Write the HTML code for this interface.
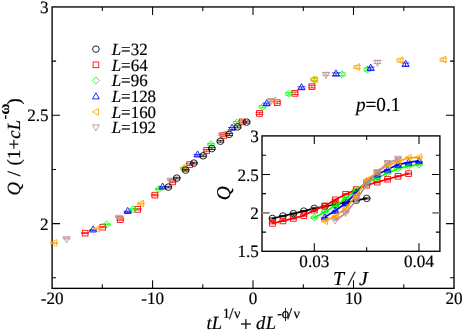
<!DOCTYPE html>
<html><head><meta charset="utf-8"><title>Q scaling plot</title>
<style>
html,body{margin:0;padding:0;background:#fff;}
body{width:463px;height:331px;overflow:hidden;}
.t{font-family:"Liberation Serif",serif;fill:#000;stroke:#000;stroke-width:0.18px;text-rendering:geometricPrecision;}
</style></head><body>
<svg width="463" height="331" viewBox="0 0 463 331" style="display:block;will-change:transform">
<rect width="463" height="331" fill="#fff"/>
<rect x="52.1" y="6.95" width="401.9" height="281.40000000000003" fill="none" stroke="#000" stroke-width="1.35"/>
<path d="M152.6 288.35v-8M152.6 6.95v8M253.0 288.35v-8M253.0 6.95v8M353.5 288.35v-8M353.5 6.95v8M102.3 288.35v-4M102.3 6.95v4M202.8 288.35v-4M202.8 6.95v4M303.3 288.35v-4M303.3 6.95v4M403.8 288.35v-4M403.8 6.95v4M52.1 223.6h8M454.0 223.6h-8M52.1 115.3h8M454.0 115.3h-8M52.1 277.8h4M454.0 277.8h-4M52.1 169.4h4M454.0 169.4h-4M52.1 61.1h4M454.0 61.1h-4" stroke="#000" stroke-width="1.05" fill="none"/>
<path d="M81.2 232.6H89.0M81.2 233.6H89.0M85.1 232.6V233.6" fill="none" stroke="#ff0000" stroke-width="0.8"/>
<rect x="82.3" y="230.3" width="5.68" height="5.68" fill="none" stroke="#ff0000" stroke-width="0.85"/>
<path d="M98.8 226.6H106.6M98.8 227.6H106.6M102.7 226.6V227.6" fill="none" stroke="#ff0000" stroke-width="0.8"/>
<rect x="99.9" y="224.3" width="5.68" height="5.68" fill="none" stroke="#ff0000" stroke-width="0.85"/>
<path d="M116.3 219.0H124.1M116.3 220.2H124.1M120.2 219.0V220.2" fill="none" stroke="#ff0000" stroke-width="0.8"/>
<rect x="117.4" y="216.8" width="5.68" height="5.68" fill="none" stroke="#ff0000" stroke-width="0.85"/>
<path d="M133.8 208.7H141.6M133.8 209.9H141.6M137.7 208.7V209.9" fill="none" stroke="#ff0000" stroke-width="0.8"/>
<rect x="134.9" y="206.5" width="5.68" height="5.68" fill="none" stroke="#ff0000" stroke-width="0.85"/>
<path d="M150.9 194.4H158.7M150.9 195.8H158.7M154.8 194.4V195.8" fill="none" stroke="#ff0000" stroke-width="0.8"/>
<rect x="152.0" y="192.3" width="5.68" height="5.68" fill="none" stroke="#ff0000" stroke-width="0.85"/>
<path d="M168.7 181.1H176.5M168.7 182.7H176.5M172.6 181.1V182.7" fill="none" stroke="#ff0000" stroke-width="0.8"/>
<rect x="169.8" y="179.1" width="5.68" height="5.68" fill="none" stroke="#ff0000" stroke-width="0.85"/>
<path d="M185.7 163.8H193.5M185.7 165.4H193.5M189.6 163.8V165.4" fill="none" stroke="#ff0000" stroke-width="0.8"/>
<rect x="186.8" y="161.8" width="5.68" height="5.68" fill="none" stroke="#ff0000" stroke-width="0.85"/>
<path d="M202.8 149.5H210.6M202.8 151.3H210.6M206.7 149.5V151.3" fill="none" stroke="#ff0000" stroke-width="0.8"/>
<rect x="203.9" y="147.6" width="5.68" height="5.68" fill="none" stroke="#ff0000" stroke-width="0.85"/>
<path d="M219.7 134.4H227.5M219.7 136.4H227.5M223.6 134.4V136.4" fill="none" stroke="#ff0000" stroke-width="0.8"/>
<rect x="220.8" y="132.6" width="5.68" height="5.68" fill="none" stroke="#ff0000" stroke-width="0.85"/>
<path d="M238.2 120.9H246.0M238.2 122.9H246.0M242.1 120.9V122.9" fill="none" stroke="#ff0000" stroke-width="0.8"/>
<rect x="239.3" y="119.1" width="5.68" height="5.68" fill="none" stroke="#ff0000" stroke-width="0.85"/>
<path d="M255.5 112.3H263.3M255.5 114.5H263.3M259.4 112.3V114.5" fill="none" stroke="#ff0000" stroke-width="0.8"/>
<rect x="256.6" y="110.6" width="5.68" height="5.68" fill="none" stroke="#ff0000" stroke-width="0.85"/>
<path d="M273.3 101.5H281.1M273.3 103.7H281.1M277.2 101.5V103.7" fill="none" stroke="#ff0000" stroke-width="0.8"/>
<rect x="274.4" y="99.8" width="5.68" height="5.68" fill="none" stroke="#ff0000" stroke-width="0.85"/>
<path d="M291.0 92.1H298.8M291.0 94.5H298.8M294.9 92.1V94.5" fill="none" stroke="#ff0000" stroke-width="0.8"/>
<rect x="292.1" y="90.5" width="5.68" height="5.68" fill="none" stroke="#ff0000" stroke-width="0.85"/>
<path d="M308.0 85.3H315.8M308.0 87.9H315.8M311.9 85.3V87.9" fill="none" stroke="#ff0000" stroke-width="0.8"/>
<rect x="309.1" y="83.8" width="5.68" height="5.68" fill="none" stroke="#ff0000" stroke-width="0.85"/>
<path d="M102.8 223.8H110.6M102.8 224.8H110.6M106.7 223.8V224.8" fill="none" stroke="#00ff00" stroke-width="0.8"/>
<path d="M103.2 224.3L106.7 220.8L110.2 224.3L106.7 227.8Z" fill="none" stroke="#00ff00" stroke-width="0.85"/>
<path d="M129.3 208.7H137.1M129.3 209.9H137.1M133.2 208.7V209.9" fill="none" stroke="#00ff00" stroke-width="0.8"/>
<path d="M129.7 209.3L133.2 205.8L136.7 209.3L133.2 212.8Z" fill="none" stroke="#00ff00" stroke-width="0.85"/>
<path d="M154.9 188.4H162.7M154.9 189.8H162.7M158.8 188.4V189.8" fill="none" stroke="#00ff00" stroke-width="0.8"/>
<path d="M155.3 189.1L158.8 185.6L162.3 189.1L158.8 192.6Z" fill="none" stroke="#00ff00" stroke-width="0.85"/>
<path d="M180.0 167.5H187.8M180.0 169.1H187.8M183.9 167.5V169.1" fill="none" stroke="#00ff00" stroke-width="0.8"/>
<path d="M180.4 168.3L183.9 164.8L187.4 168.3L183.9 171.8Z" fill="none" stroke="#00ff00" stroke-width="0.85"/>
<path d="M207.1 143.4H214.9M207.1 145.2H214.9M211.0 143.4V145.2" fill="none" stroke="#00ff00" stroke-width="0.8"/>
<path d="M207.5 144.3L211.0 140.8L214.5 144.3L211.0 147.8Z" fill="none" stroke="#00ff00" stroke-width="0.85"/>
<path d="M232.9 121.6H240.7M232.9 123.6H240.7M236.8 121.6V123.6" fill="none" stroke="#00ff00" stroke-width="0.8"/>
<path d="M233.3 122.6L236.8 119.1L240.3 122.6L236.8 126.1Z" fill="none" stroke="#00ff00" stroke-width="0.85"/>
<path d="M258.8 105.7H266.6M258.8 107.9H266.6M262.7 105.7V107.9" fill="none" stroke="#00ff00" stroke-width="0.8"/>
<path d="M259.2 106.8L262.7 103.3L266.2 106.8L262.7 110.3Z" fill="none" stroke="#00ff00" stroke-width="0.85"/>
<path d="M285.1 92.6H292.9M285.1 95.0H292.9M289.0 92.6V95.0" fill="none" stroke="#00ff00" stroke-width="0.8"/>
<path d="M285.5 93.8L289.0 90.3L292.5 93.8L289.0 97.3Z" fill="none" stroke="#00ff00" stroke-width="0.85"/>
<path d="M310.3 78.3H318.1M310.3 80.9H318.1M314.2 78.3V80.9" fill="none" stroke="#00ff00" stroke-width="0.8"/>
<path d="M310.7 79.6L314.2 76.1L317.7 79.6L314.2 83.1Z" fill="none" stroke="#00ff00" stroke-width="0.85"/>
<path d="M338.0 72.9H345.8M338.0 75.7H345.8M341.9 72.9V75.7" fill="none" stroke="#00ff00" stroke-width="0.8"/>
<path d="M338.4 74.3L341.9 70.8L345.4 74.3L341.9 77.8Z" fill="none" stroke="#00ff00" stroke-width="0.85"/>
<path d="M363.5 68.1H371.3M363.5 71.1H371.3M367.4 68.1V71.1" fill="none" stroke="#00ff00" stroke-width="0.8"/>
<path d="M363.9 69.6L367.4 66.1L370.9 69.6L367.4 73.1Z" fill="none" stroke="#00ff00" stroke-width="0.85"/>
<path d="M89.2 229.8H97.0M89.2 230.8H97.0M93.1 229.8V230.8" fill="none" stroke="#0000ff" stroke-width="0.8"/>
<path d="M93.1 225.9L96.5 232.0L89.7 232.0Z" fill="none" stroke="#0000ff" stroke-width="0.85"/>
<path d="M123.8 211.2H131.6M123.8 212.4H131.6M127.7 211.2V212.4" fill="none" stroke="#0000ff" stroke-width="0.8"/>
<path d="M127.7 207.4L131.1 213.5L124.3 213.5Z" fill="none" stroke="#0000ff" stroke-width="0.85"/>
<path d="M158.7 186.7H166.5M158.7 188.1H166.5M162.6 186.7V188.1" fill="none" stroke="#0000ff" stroke-width="0.8"/>
<path d="M162.6 183.0L166.0 189.1L159.2 189.1Z" fill="none" stroke="#0000ff" stroke-width="0.85"/>
<path d="M193.7 154.4H201.5M193.7 156.2H201.5M197.6 154.4V156.2" fill="none" stroke="#0000ff" stroke-width="0.8"/>
<path d="M197.6 150.9L201.0 157.0L194.2 157.0Z" fill="none" stroke="#0000ff" stroke-width="0.85"/>
<path d="M228.1 127.6H235.9M228.1 129.6H235.9M232.0 127.6V129.6" fill="none" stroke="#0000ff" stroke-width="0.8"/>
<path d="M232.0 124.2L235.4 130.3L228.6 130.3Z" fill="none" stroke="#0000ff" stroke-width="0.85"/>
<path d="M262.8 103.0H270.6M262.8 105.2H270.6M266.7 103.0V105.2" fill="none" stroke="#0000ff" stroke-width="0.8"/>
<path d="M266.7 99.7L270.1 105.8L263.3 105.8Z" fill="none" stroke="#0000ff" stroke-width="0.85"/>
<path d="M297.6 86.8H305.4M297.6 89.2H305.4M301.5 86.8V89.2" fill="none" stroke="#0000ff" stroke-width="0.8"/>
<path d="M301.5 83.6L304.9 89.7L298.1 89.7Z" fill="none" stroke="#0000ff" stroke-width="0.85"/>
<path d="M332.1 72.9H339.9M332.1 75.7H339.9M336.0 72.9V75.7" fill="none" stroke="#0000ff" stroke-width="0.8"/>
<path d="M336.0 69.9L339.4 76.0L332.6 76.0Z" fill="none" stroke="#0000ff" stroke-width="0.85"/>
<path d="M366.8 67.1H374.6M366.8 70.1H374.6M370.7 67.1V70.1" fill="none" stroke="#0000ff" stroke-width="0.8"/>
<path d="M370.7 64.2L374.1 70.3L367.3 70.3Z" fill="none" stroke="#0000ff" stroke-width="0.85"/>
<path d="M401.7 63.0H409.5M401.7 66.2H409.5M405.6 63.0V66.2" fill="none" stroke="#0000ff" stroke-width="0.8"/>
<path d="M405.6 60.2L409.0 66.3L402.2 66.3Z" fill="none" stroke="#0000ff" stroke-width="0.85"/>
<path d="M50.2 242.4H58.0M50.2 243.4H58.0M54.1 242.4V243.4" fill="none" stroke="#ffa500" stroke-width="0.8"/>
<path d="M50.6 242.9L56.7 239.5L56.7 246.3Z" fill="none" stroke="#ffa500" stroke-width="0.85"/>
<path d="M93.3 228.3H101.1M93.3 229.3H101.1M97.2 228.3V229.3" fill="none" stroke="#ffa500" stroke-width="0.8"/>
<path d="M93.7 228.8L99.8 225.4L99.8 232.2Z" fill="none" stroke="#ffa500" stroke-width="0.85"/>
<path d="M137.0 202.9H144.8M137.0 204.1H144.8M140.9 202.9V204.1" fill="none" stroke="#ffa500" stroke-width="0.8"/>
<path d="M137.4 203.5L143.5 200.1L143.5 206.9Z" fill="none" stroke="#ffa500" stroke-width="0.85"/>
<path d="M180.1 167.5H187.9M180.1 169.1H187.9M184.0 167.5V169.1" fill="none" stroke="#ffa500" stroke-width="0.8"/>
<path d="M180.5 168.3L186.6 164.9L186.6 171.7Z" fill="none" stroke="#ffa500" stroke-width="0.85"/>
<path d="M223.0 131.8H230.8M223.0 133.8H230.8M226.9 131.8V133.8" fill="none" stroke="#ffa500" stroke-width="0.8"/>
<path d="M223.4 132.8L229.5 129.4L229.5 136.2Z" fill="none" stroke="#ffa500" stroke-width="0.85"/>
<path d="M269.4 99.5H277.2M269.4 101.7H277.2M273.3 99.5V101.7" fill="none" stroke="#ffa500" stroke-width="0.8"/>
<path d="M269.8 100.6L275.9 97.2L275.9 104.0Z" fill="none" stroke="#ffa500" stroke-width="0.85"/>
<path d="M310.4 78.3H318.2M310.4 80.9H318.2M314.3 78.3V80.9" fill="none" stroke="#ffa500" stroke-width="0.8"/>
<path d="M310.8 79.6L316.9 76.2L316.9 83.0Z" fill="none" stroke="#ffa500" stroke-width="0.85"/>
<path d="M353.1 65.6H360.9M353.1 68.4H360.9M357.0 65.6V68.4" fill="none" stroke="#ffa500" stroke-width="0.8"/>
<path d="M353.5 67.0L359.6 63.6L359.6 70.4Z" fill="none" stroke="#ffa500" stroke-width="0.85"/>
<path d="M396.3 58.8H404.1M396.3 62.0H404.1M400.2 58.8V62.0" fill="none" stroke="#ffa500" stroke-width="0.8"/>
<path d="M396.7 60.4L402.8 57.0L402.8 63.8Z" fill="none" stroke="#ffa500" stroke-width="0.85"/>
<path d="M439.4 58.1H447.2M439.4 61.3H447.2M443.3 58.1V61.3" fill="none" stroke="#ffa500" stroke-width="0.8"/>
<path d="M439.8 59.7L445.9 56.3L445.9 63.1Z" fill="none" stroke="#ffa500" stroke-width="0.85"/>
<path d="M62.7 237.9H70.5M62.7 238.9H70.5M66.6 237.9V238.9" fill="none" stroke="#bc8f8f" stroke-width="0.8"/>
<path d="M66.6 242.8L70.0 236.7L63.2 236.7Z" fill="none" stroke="#bc8f8f" stroke-width="0.85"/>
<path d="M115.1 216.4H122.9M115.1 217.6H122.9M119.0 216.4V217.6" fill="none" stroke="#bc8f8f" stroke-width="0.8"/>
<path d="M119.0 221.4L122.4 215.3L115.6 215.3Z" fill="none" stroke="#bc8f8f" stroke-width="0.85"/>
<path d="M166.7 179.1H174.5M166.7 180.7H174.5M170.6 179.1V180.7" fill="none" stroke="#bc8f8f" stroke-width="0.8"/>
<path d="M170.6 184.3L174.0 178.2L167.2 178.2Z" fill="none" stroke="#bc8f8f" stroke-width="0.85"/>
<path d="M217.9 133.7H225.7M217.9 135.5H225.7M221.8 133.7V135.5" fill="none" stroke="#bc8f8f" stroke-width="0.8"/>
<path d="M221.8 139.0L225.2 132.9L218.4 132.9Z" fill="none" stroke="#bc8f8f" stroke-width="0.85"/>
<path d="M267.0 99.2H274.8M267.0 101.4H274.8M270.9 99.2V101.4" fill="none" stroke="#bc8f8f" stroke-width="0.8"/>
<path d="M270.9 104.7L274.3 98.6L267.5 98.6Z" fill="none" stroke="#bc8f8f" stroke-width="0.85"/>
<path d="M322.1 72.7H329.9M322.1 75.3H329.9M326.0 72.7V75.3" fill="none" stroke="#bc8f8f" stroke-width="0.8"/>
<path d="M326.0 78.4L329.4 72.3L322.6 72.3Z" fill="none" stroke="#bc8f8f" stroke-width="0.85"/>
<path d="M373.6 60.5H381.4M373.6 63.5H381.4M377.5 60.5V63.5" fill="none" stroke="#bc8f8f" stroke-width="0.8"/>
<path d="M377.5 66.4L380.9 60.3L374.1 60.3Z" fill="none" stroke="#bc8f8f" stroke-width="0.85"/>
<path d="M164.4 186.3H172.2M164.4 187.9H172.2M168.3 186.3V187.9" fill="none" stroke="#000000" stroke-width="0.8"/>
<circle cx="168.3" cy="187.1" r="3.30" fill="none" stroke="#000000" stroke-width="0.85"/>
<path d="M172.9 177.3H180.7M172.9 178.9H180.7M176.8 177.3V178.9" fill="none" stroke="#000000" stroke-width="0.8"/>
<circle cx="176.8" cy="178.1" r="3.30" fill="none" stroke="#000000" stroke-width="0.85"/>
<path d="M181.7 169.3H189.5M181.7 170.9H189.5M185.6 169.3V170.9" fill="none" stroke="#000000" stroke-width="0.8"/>
<circle cx="185.6" cy="170.1" r="3.30" fill="none" stroke="#000000" stroke-width="0.85"/>
<path d="M190.0 162.3H197.8M190.0 163.9H197.8M193.9 162.3V163.9" fill="none" stroke="#000000" stroke-width="0.8"/>
<circle cx="193.9" cy="163.1" r="3.30" fill="none" stroke="#000000" stroke-width="0.85"/>
<path d="M199.3 154.9H207.1M199.3 156.7H207.1M203.2 154.9V156.7" fill="none" stroke="#000000" stroke-width="0.8"/>
<circle cx="203.2" cy="155.8" r="3.30" fill="none" stroke="#000000" stroke-width="0.85"/>
<path d="M207.9 147.7H215.7M207.9 149.5H215.7M211.8 147.7V149.5" fill="none" stroke="#000000" stroke-width="0.8"/>
<circle cx="211.8" cy="148.6" r="3.30" fill="none" stroke="#000000" stroke-width="0.85"/>
<path d="M216.5 140.3H224.3M216.5 142.1H224.3M220.4 140.3V142.1" fill="none" stroke="#000000" stroke-width="0.8"/>
<circle cx="220.4" cy="141.2" r="3.30" fill="none" stroke="#000000" stroke-width="0.85"/>
<path d="M225.3 133.4H233.1M225.3 135.4H233.1M229.2 133.4V135.4" fill="none" stroke="#000000" stroke-width="0.8"/>
<circle cx="229.2" cy="134.4" r="3.30" fill="none" stroke="#000000" stroke-width="0.85"/>
<path d="M233.7 125.9H241.5M233.7 127.9H241.5M237.6 125.9V127.9" fill="none" stroke="#000000" stroke-width="0.8"/>
<circle cx="237.6" cy="126.9" r="3.30" fill="none" stroke="#000000" stroke-width="0.85"/>
<path d="M242.7 121.1H250.5M242.7 123.1H250.5M246.6 121.1V123.1" fill="none" stroke="#000000" stroke-width="0.8"/>
<circle cx="246.6" cy="122.1" r="3.30" fill="none" stroke="#000000" stroke-width="0.85"/>
<circle cx="95.9" cy="49.1" r="3.30" fill="none" stroke="#000000" stroke-width="0.85"/>
<text transform="translate(111.7 54.85) scale(0.985 1.0)" class="t" font-size="17.2"><tspan font-style="italic">L</tspan>=32</text>
<rect x="93.1" y="62.0" width="5.68" height="5.68" fill="none" stroke="#ff0000" stroke-width="0.85"/>
<text transform="translate(111.7 70.55) scale(0.985 1.0)" class="t" font-size="17.2"><tspan font-style="italic">L</tspan>=64</text>
<path d="M92.4 80.5L95.9 77.0L99.4 80.5L95.9 84.0Z" fill="none" stroke="#00ff00" stroke-width="0.85"/>
<text transform="translate(111.7 86.25) scale(0.985 1.0)" class="t" font-size="17.2"><tspan font-style="italic">L</tspan>=96</text>
<path d="M95.9 92.8L99.3 98.9L92.5 98.9Z" fill="none" stroke="#0000ff" stroke-width="0.85"/>
<text transform="translate(111.7 101.95) scale(0.985 1.0)" class="t" font-size="17.2"><tspan font-style="italic">L</tspan>=128</text>
<path d="M92.5 111.9L98.6 108.5L98.6 115.3Z" fill="none" stroke="#ffa500" stroke-width="0.85"/>
<text transform="translate(111.7 117.65) scale(0.985 1.0)" class="t" font-size="17.2"><tspan font-style="italic">L</tspan>=160</text>
<path d="M95.9 131.0L99.3 124.9L92.5 124.9Z" fill="none" stroke="#bc8f8f" stroke-width="0.85"/>
<text transform="translate(111.7 133.35) scale(0.985 1.0)" class="t" font-size="17.2"><tspan font-style="italic">L</tspan>=192</text>
<text transform="translate(52.2 304.1) scale(1 1.02)" class="t" font-size="17.1" text-anchor="middle">-20</text>
<text transform="translate(152.7 304.1) scale(1 1.02)" class="t" font-size="17.1" text-anchor="middle">-10</text>
<text transform="translate(253.1 304.1) scale(1 1.02)" class="t" font-size="17.1" text-anchor="middle">0</text>
<text transform="translate(353.6 304.1) scale(1 1.02)" class="t" font-size="17.1" text-anchor="middle">10</text>
<text transform="translate(454.1 304.1) scale(1 1.02)" class="t" font-size="17.1" text-anchor="middle">20</text>
<text transform="translate(48.6 13.00) scale(1 1.02)" class="t" font-size="17.1" text-anchor="end">3</text>
<text transform="translate(48.6 121.32) scale(1 1.02)" class="t" font-size="17.1" text-anchor="end">2.5</text>
<text transform="translate(48.6 229.65) scale(1 1.02)" class="t" font-size="17.1" text-anchor="end">2</text>
<text y="328.7" class="t" font-size="18.6"><tspan x="206.5" font-style="italic">tL</tspan><tspan font-size="14.2" y="317.5"><tspan x="222.7">1</tspan><tspan x="229.0" y="318.7" font-size="16.5">/</tspan><tspan x="234.0" y="317.5">&#957;</tspan></tspan><tspan x="240.0" y="331.2" font-size="20.9">+</tspan><tspan y="328.7" font-style="italic"><tspan x="256.0">d</tspan><tspan x="265.8">L</tspan></tspan><tspan font-size="14.2" y="317.5"><tspan x="277.3">-</tspan><tspan x="281.7">&#981;</tspan><tspan x="287.5" y="318.7" font-size="16.5">/</tspan><tspan x="293.4" y="317.5">&#957;</tspan></tspan></text>
<text transform="translate(20 195.5) rotate(-90)" class="t" font-size="18.6" word-spacing="1.1"><tspan font-style="italic">Q</tspan> / <tspan letter-spacing="0.25">(1+<tspan font-style="italic">cL</tspan><tspan font-size="14.5" dy="-11.4">-<tspan font-weight="bold" font-size="15">&#969;</tspan></tspan><tspan dy="11.4" dx="-1.2">)</tspan></tspan></text>
<text transform="translate(355.9 110.9) scale(1 1.03)" class="t" font-size="19.2"><tspan font-style="italic">p</tspan>=0.1</text>
<rect x="262.0" y="135.9" width="177.89999999999998" height="115.4" fill="#fff" stroke="#000" stroke-width="1.35"/>
<path d="M314.3 251.3v-8M314.3 135.9v8M419.0 251.3v-8M419.0 135.9v8M366.7 251.3v-4M366.7 135.9v4M262.0 174.4h8M439.9 174.4h-8M262.0 232.1h4M439.9 232.1h-4M262.0 193.6h4M439.9 193.6h-4M262.0 155.2h4M439.9 155.2h-4" stroke="#000" stroke-width="1.05" fill="none"/>
<path d="M262.0 212.8h7.5M439.9 212.8h-7.5" stroke="#808080" stroke-width="1.8" fill="none"/>
<path d="M272.4 218.5L282.9 216.0L293.4 213.6L303.8 211.1L314.3 208.4L324.8 206.5L335.2 204.5L345.7 202.5L356.2 200.3L366.7 198.4" fill="none" stroke="#000000" stroke-width="1.7" stroke-linejoin="round"/>
<path d="M268.8 217.9H276.0M268.8 219.1H276.0M272.4 217.9V219.1" fill="none" stroke="#000000" stroke-width="0.8"/>
<circle cx="272.4" cy="218.5" r="3.30" fill="none" stroke="#000000" stroke-width="0.85"/>
<path d="M279.3 215.4H286.5M279.3 216.6H286.5M282.9 215.4V216.6" fill="none" stroke="#000000" stroke-width="0.8"/>
<circle cx="282.9" cy="216.0" r="3.30" fill="none" stroke="#000000" stroke-width="0.85"/>
<path d="M289.8 213.0H297.0M289.8 214.2H297.0M293.4 213.0V214.2" fill="none" stroke="#000000" stroke-width="0.8"/>
<circle cx="293.4" cy="213.6" r="3.30" fill="none" stroke="#000000" stroke-width="0.85"/>
<path d="M300.2 210.5H307.4M300.2 211.7H307.4M303.8 210.5V211.7" fill="none" stroke="#000000" stroke-width="0.8"/>
<circle cx="303.8" cy="211.1" r="3.30" fill="none" stroke="#000000" stroke-width="0.85"/>
<path d="M310.7 207.8H317.9M310.7 209.0H317.9M314.3 207.8V209.0" fill="none" stroke="#000000" stroke-width="0.8"/>
<circle cx="314.3" cy="208.4" r="3.30" fill="none" stroke="#000000" stroke-width="0.85"/>
<path d="M321.2 205.9H328.4M321.2 207.1H328.4M324.8 205.9V207.1" fill="none" stroke="#000000" stroke-width="0.8"/>
<circle cx="324.8" cy="206.5" r="3.30" fill="none" stroke="#000000" stroke-width="0.85"/>
<path d="M331.6 203.9H338.8M331.6 205.1H338.8M335.2 203.9V205.1" fill="none" stroke="#000000" stroke-width="0.8"/>
<circle cx="335.2" cy="204.5" r="3.30" fill="none" stroke="#000000" stroke-width="0.85"/>
<path d="M342.1 201.9H349.3M342.1 203.1H349.3M345.7 201.9V203.1" fill="none" stroke="#000000" stroke-width="0.8"/>
<circle cx="345.7" cy="202.5" r="3.30" fill="none" stroke="#000000" stroke-width="0.85"/>
<path d="M352.6 199.7H359.8M352.6 200.9H359.8M356.2 199.7V200.9" fill="none" stroke="#000000" stroke-width="0.8"/>
<circle cx="356.2" cy="200.3" r="3.30" fill="none" stroke="#000000" stroke-width="0.85"/>
<path d="M363.1 197.8H370.3M363.1 199.0H370.3M366.7 197.8V199.0" fill="none" stroke="#000000" stroke-width="0.8"/>
<circle cx="366.7" cy="198.4" r="3.30" fill="none" stroke="#000000" stroke-width="0.85"/>
<path d="M272.4 223.3L282.9 220.9L293.4 218.4L303.8 215.6L314.3 210.1L324.8 205.9L335.2 199.8L345.7 194.3L356.2 189.6L366.7 185.2L377.1 182.1L387.6 179.2L398.1 176.3L408.5 173.6" fill="none" stroke="#ff0000" stroke-width="1.7" stroke-linejoin="round"/>
<path d="M268.8 222.7H276.0M268.8 223.9H276.0M272.4 222.7V223.9" fill="none" stroke="#ff0000" stroke-width="0.8"/>
<rect x="269.6" y="220.5" width="5.68" height="5.68" fill="none" stroke="#ff0000" stroke-width="0.85"/>
<path d="M279.3 220.3H286.5M279.3 221.5H286.5M282.9 220.3V221.5" fill="none" stroke="#ff0000" stroke-width="0.8"/>
<rect x="280.1" y="218.1" width="5.68" height="5.68" fill="none" stroke="#ff0000" stroke-width="0.85"/>
<path d="M289.8 217.8H297.0M289.8 219.0H297.0M293.4 217.8V219.0" fill="none" stroke="#ff0000" stroke-width="0.8"/>
<rect x="290.5" y="215.6" width="5.68" height="5.68" fill="none" stroke="#ff0000" stroke-width="0.85"/>
<path d="M300.2 215.0H307.4M300.2 216.2H307.4M303.8 215.0V216.2" fill="none" stroke="#ff0000" stroke-width="0.8"/>
<rect x="301.0" y="212.8" width="5.68" height="5.68" fill="none" stroke="#ff0000" stroke-width="0.85"/>
<path d="M310.7 209.5H317.9M310.7 210.7H317.9M314.3 209.5V210.7" fill="none" stroke="#ff0000" stroke-width="0.8"/>
<rect x="311.5" y="207.3" width="5.68" height="5.68" fill="none" stroke="#ff0000" stroke-width="0.85"/>
<path d="M321.2 205.3H328.4M321.2 206.5H328.4M324.8 205.3V206.5" fill="none" stroke="#ff0000" stroke-width="0.8"/>
<rect x="321.9" y="203.1" width="5.68" height="5.68" fill="none" stroke="#ff0000" stroke-width="0.85"/>
<path d="M331.6 199.2H338.8M331.6 200.4H338.8M335.2 199.2V200.4" fill="none" stroke="#ff0000" stroke-width="0.8"/>
<rect x="332.4" y="197.0" width="5.68" height="5.68" fill="none" stroke="#ff0000" stroke-width="0.85"/>
<path d="M342.1 193.7H349.3M342.1 194.9H349.3M345.7 193.7V194.9" fill="none" stroke="#ff0000" stroke-width="0.8"/>
<rect x="342.9" y="191.5" width="5.68" height="5.68" fill="none" stroke="#ff0000" stroke-width="0.85"/>
<path d="M352.6 189.0H359.8M352.6 190.2H359.8M356.2 189.0V190.2" fill="none" stroke="#ff0000" stroke-width="0.8"/>
<rect x="353.3" y="186.8" width="5.68" height="5.68" fill="none" stroke="#ff0000" stroke-width="0.85"/>
<path d="M363.1 184.6H370.3M363.1 185.8H370.3M366.7 184.6V185.8" fill="none" stroke="#ff0000" stroke-width="0.8"/>
<rect x="363.8" y="182.4" width="5.68" height="5.68" fill="none" stroke="#ff0000" stroke-width="0.85"/>
<path d="M373.5 181.5H380.7M373.5 182.7H380.7M377.1 181.5V182.7" fill="none" stroke="#ff0000" stroke-width="0.8"/>
<rect x="374.3" y="179.3" width="5.68" height="5.68" fill="none" stroke="#ff0000" stroke-width="0.85"/>
<path d="M384.0 178.6H391.2M384.0 179.8H391.2M387.6 178.6V179.8" fill="none" stroke="#ff0000" stroke-width="0.8"/>
<rect x="384.8" y="176.4" width="5.68" height="5.68" fill="none" stroke="#ff0000" stroke-width="0.85"/>
<path d="M394.5 175.7H401.7M394.5 176.9H401.7M398.1 175.7V176.9" fill="none" stroke="#ff0000" stroke-width="0.8"/>
<rect x="395.2" y="173.5" width="5.68" height="5.68" fill="none" stroke="#ff0000" stroke-width="0.85"/>
<path d="M404.9 173.0H412.1M404.9 174.2H412.1M408.5 173.0V174.2" fill="none" stroke="#ff0000" stroke-width="0.8"/>
<rect x="405.7" y="170.8" width="5.68" height="5.68" fill="none" stroke="#ff0000" stroke-width="0.85"/>
<path d="M314.3 217.6L324.8 212.0L335.2 205.7L345.7 198.6L356.2 190.0L366.7 183.0L377.1 177.8L387.6 173.3L398.1 168.4L408.5 166.2L419.0 164.7" fill="none" stroke="#00ff00" stroke-width="1.7" stroke-linejoin="round"/>
<path d="M310.7 217.0H317.9M310.7 218.2H317.9M314.3 217.0V218.2" fill="none" stroke="#00ff00" stroke-width="0.8"/>
<path d="M310.8 217.6L314.3 214.1L317.8 217.6L314.3 221.1Z" fill="none" stroke="#00ff00" stroke-width="0.85"/>
<path d="M321.2 211.4H328.4M321.2 212.6H328.4M324.8 211.4V212.6" fill="none" stroke="#00ff00" stroke-width="0.8"/>
<path d="M321.3 212.0L324.8 208.5L328.3 212.0L324.8 215.5Z" fill="none" stroke="#00ff00" stroke-width="0.85"/>
<path d="M331.6 205.1H338.8M331.6 206.3H338.8M335.2 205.1V206.3" fill="none" stroke="#00ff00" stroke-width="0.8"/>
<path d="M331.7 205.7L335.2 202.2L338.7 205.7L335.2 209.2Z" fill="none" stroke="#00ff00" stroke-width="0.85"/>
<path d="M342.1 198.0H349.3M342.1 199.2H349.3M345.7 198.0V199.2" fill="none" stroke="#00ff00" stroke-width="0.8"/>
<path d="M342.2 198.6L345.7 195.1L349.2 198.6L345.7 202.1Z" fill="none" stroke="#00ff00" stroke-width="0.85"/>
<path d="M352.6 189.4H359.8M352.6 190.6H359.8M356.2 189.4V190.6" fill="none" stroke="#00ff00" stroke-width="0.8"/>
<path d="M352.7 190.0L356.2 186.5L359.7 190.0L356.2 193.5Z" fill="none" stroke="#00ff00" stroke-width="0.85"/>
<path d="M363.1 182.4H370.3M363.1 183.6H370.3M366.7 182.4V183.6" fill="none" stroke="#00ff00" stroke-width="0.8"/>
<path d="M363.2 183.0L366.7 179.5L370.1 183.0L366.7 186.5Z" fill="none" stroke="#00ff00" stroke-width="0.85"/>
<path d="M373.5 177.2H380.7M373.5 178.4H380.7M377.1 177.2V178.4" fill="none" stroke="#00ff00" stroke-width="0.8"/>
<path d="M373.6 177.8L377.1 174.3L380.6 177.8L377.1 181.3Z" fill="none" stroke="#00ff00" stroke-width="0.85"/>
<path d="M384.0 172.7H391.2M384.0 173.9H391.2M387.6 172.7V173.9" fill="none" stroke="#00ff00" stroke-width="0.8"/>
<path d="M384.1 173.3L387.6 169.8L391.1 173.3L387.6 176.8Z" fill="none" stroke="#00ff00" stroke-width="0.85"/>
<path d="M394.5 167.8H401.7M394.5 169.0H401.7M398.1 167.8V169.0" fill="none" stroke="#00ff00" stroke-width="0.8"/>
<path d="M394.6 168.4L398.1 164.9L401.6 168.4L398.1 171.9Z" fill="none" stroke="#00ff00" stroke-width="0.85"/>
<path d="M404.9 165.6H412.1M404.9 166.8H412.1M408.5 165.6V166.8" fill="none" stroke="#00ff00" stroke-width="0.8"/>
<path d="M405.0 166.2L408.5 162.7L412.0 166.2L408.5 169.7Z" fill="none" stroke="#00ff00" stroke-width="0.85"/>
<path d="M415.4 164.1H422.6M415.4 165.3H422.6M419.0 164.1V165.3" fill="none" stroke="#00ff00" stroke-width="0.8"/>
<path d="M415.5 164.7L419.0 161.2L422.5 164.7L419.0 168.2Z" fill="none" stroke="#00ff00" stroke-width="0.85"/>
<path d="M324.8 217.1L335.2 210.7L345.7 203.3L356.2 192.6L366.7 181.4L377.1 174.4L387.6 169.4L398.1 164.6L408.5 162.3L419.0 160.9" fill="none" stroke="#0000ff" stroke-width="1.7" stroke-linejoin="round"/>
<path d="M321.2 217.5H328.4M321.2 218.7H328.4M324.8 217.5V218.7" fill="none" stroke="#0000ff" stroke-width="0.8"/>
<path d="M324.8 213.7L328.2 219.8L321.4 219.8Z" fill="none" stroke="#0000ff" stroke-width="0.85"/>
<path d="M331.6 211.1H338.8M331.6 212.3H338.8M335.2 211.1V212.3" fill="none" stroke="#0000ff" stroke-width="0.8"/>
<path d="M335.2 207.3L338.6 213.4L331.8 213.4Z" fill="none" stroke="#0000ff" stroke-width="0.85"/>
<path d="M342.1 203.7H349.3M342.1 204.9H349.3M345.7 203.7V204.9" fill="none" stroke="#0000ff" stroke-width="0.8"/>
<path d="M345.7 199.9L349.1 206.0L342.3 206.0Z" fill="none" stroke="#0000ff" stroke-width="0.85"/>
<path d="M352.6 193.0H359.8M352.6 194.2H359.8M356.2 193.0V194.2" fill="none" stroke="#0000ff" stroke-width="0.8"/>
<path d="M356.2 189.2L359.6 195.3L352.8 195.3Z" fill="none" stroke="#0000ff" stroke-width="0.85"/>
<path d="M363.1 181.8H370.3M363.1 183.0H370.3M366.7 181.8V183.0" fill="none" stroke="#0000ff" stroke-width="0.8"/>
<path d="M366.7 178.0L370.0 184.1L363.3 184.1Z" fill="none" stroke="#0000ff" stroke-width="0.85"/>
<path d="M373.5 174.8H380.7M373.5 176.0H380.7M377.1 174.8V176.0" fill="none" stroke="#0000ff" stroke-width="0.8"/>
<path d="M377.1 171.0L380.5 177.1L373.7 177.1Z" fill="none" stroke="#0000ff" stroke-width="0.85"/>
<path d="M384.0 169.8H391.2M384.0 171.0H391.2M387.6 169.8V171.0" fill="none" stroke="#0000ff" stroke-width="0.8"/>
<path d="M387.6 166.0L391.0 172.1L384.2 172.1Z" fill="none" stroke="#0000ff" stroke-width="0.85"/>
<path d="M394.5 165.0H401.7M394.5 166.2H401.7M398.1 165.0V166.2" fill="none" stroke="#0000ff" stroke-width="0.8"/>
<path d="M398.1 161.2L401.5 167.3L394.7 167.3Z" fill="none" stroke="#0000ff" stroke-width="0.85"/>
<path d="M404.9 162.7H412.1M404.9 163.9H412.1M408.5 162.7V163.9" fill="none" stroke="#0000ff" stroke-width="0.8"/>
<path d="M408.5 158.9L411.9 165.0L405.1 165.0Z" fill="none" stroke="#0000ff" stroke-width="0.85"/>
<path d="M415.4 161.3H422.6M415.4 162.5H422.6M419.0 161.3V162.5" fill="none" stroke="#0000ff" stroke-width="0.8"/>
<path d="M419.0 157.5L422.4 163.6L415.6 163.6Z" fill="none" stroke="#0000ff" stroke-width="0.85"/>
<path d="M324.8 221.3L335.2 216.3L345.7 208.5L356.2 195.5L366.7 180.0L377.1 172.2L387.6 165.4L398.1 161.5L408.5 157.8L419.0 157.3" fill="none" stroke="#ffa500" stroke-width="1.7" stroke-linejoin="round"/>
<path d="M321.3 220.7H328.5M321.3 221.9H328.5M324.9 220.7V221.9" fill="none" stroke="#ffa500" stroke-width="0.8"/>
<path d="M321.4 221.3L327.5 217.9L327.5 224.7Z" fill="none" stroke="#ffa500" stroke-width="0.85"/>
<path d="M331.7 215.7H338.9M331.7 216.9H338.9M335.3 215.7V216.9" fill="none" stroke="#ffa500" stroke-width="0.8"/>
<path d="M331.8 216.3L338.0 212.9L338.0 219.7Z" fill="none" stroke="#ffa500" stroke-width="0.85"/>
<path d="M342.2 207.9H349.4M342.2 209.1H349.4M345.8 207.9V209.1" fill="none" stroke="#ffa500" stroke-width="0.8"/>
<path d="M342.3 208.5L348.4 205.1L348.4 211.9Z" fill="none" stroke="#ffa500" stroke-width="0.85"/>
<path d="M352.7 194.9H359.9M352.7 196.1H359.9M356.3 194.9V196.1" fill="none" stroke="#ffa500" stroke-width="0.8"/>
<path d="M352.8 195.5L358.9 192.1L358.9 198.9Z" fill="none" stroke="#ffa500" stroke-width="0.85"/>
<path d="M363.2 179.4H370.4M363.2 180.6H370.4M366.8 179.4V180.6" fill="none" stroke="#ffa500" stroke-width="0.8"/>
<path d="M363.3 180.0L369.4 176.6L369.4 183.4Z" fill="none" stroke="#ffa500" stroke-width="0.85"/>
<path d="M373.6 171.6H380.8M373.6 172.8H380.8M377.2 171.6V172.8" fill="none" stroke="#ffa500" stroke-width="0.8"/>
<path d="M373.7 172.2L379.8 168.8L379.8 175.6Z" fill="none" stroke="#ffa500" stroke-width="0.85"/>
<path d="M384.1 164.8H391.3M384.1 166.0H391.3M387.7 164.8V166.0" fill="none" stroke="#ffa500" stroke-width="0.8"/>
<path d="M384.2 165.4L390.3 162.0L390.3 168.8Z" fill="none" stroke="#ffa500" stroke-width="0.85"/>
<path d="M394.6 160.9H401.8M394.6 162.1H401.8M398.2 160.9V162.1" fill="none" stroke="#ffa500" stroke-width="0.8"/>
<path d="M394.7 161.5L400.8 158.1L400.8 164.9Z" fill="none" stroke="#ffa500" stroke-width="0.85"/>
<path d="M405.0 157.2H412.2M405.0 158.4H412.2M408.6 157.2V158.4" fill="none" stroke="#ffa500" stroke-width="0.8"/>
<path d="M405.1 157.8L411.2 154.4L411.2 161.2Z" fill="none" stroke="#ffa500" stroke-width="0.85"/>
<path d="M415.5 156.7H422.7M415.5 157.9H422.7M419.1 156.7V157.9" fill="none" stroke="#ffa500" stroke-width="0.8"/>
<path d="M415.6 157.3L421.7 153.9L421.7 160.7Z" fill="none" stroke="#ffa500" stroke-width="0.85"/>
<path d="M335.2 220.5L345.7 213.2L356.2 200.2L366.7 184.2L377.1 172.2L387.6 163.2L398.1 159.0" fill="none" stroke="#bc8f8f" stroke-width="1.7" stroke-linejoin="round"/>
<path d="M331.6 218.9H338.8M331.6 220.1H338.8M335.2 218.9V220.1" fill="none" stroke="#bc8f8f" stroke-width="0.8"/>
<path d="M335.2 223.9L338.6 217.8L331.8 217.8Z" fill="none" stroke="#bc8f8f" stroke-width="0.85"/>
<path d="M342.1 211.6H349.3M342.1 212.8H349.3M345.7 211.6V212.8" fill="none" stroke="#bc8f8f" stroke-width="0.8"/>
<path d="M345.7 216.6L349.1 210.5L342.3 210.5Z" fill="none" stroke="#bc8f8f" stroke-width="0.85"/>
<path d="M352.6 198.6H359.8M352.6 199.8H359.8M356.2 198.6V199.8" fill="none" stroke="#bc8f8f" stroke-width="0.8"/>
<path d="M356.2 203.6L359.6 197.5L352.8 197.5Z" fill="none" stroke="#bc8f8f" stroke-width="0.85"/>
<path d="M363.1 182.6H370.3M363.1 183.8H370.3M366.7 182.6V183.8" fill="none" stroke="#bc8f8f" stroke-width="0.8"/>
<path d="M366.7 187.6L370.0 181.5L363.3 181.5Z" fill="none" stroke="#bc8f8f" stroke-width="0.85"/>
<path d="M373.5 170.6H380.7M373.5 171.8H380.7M377.1 170.6V171.8" fill="none" stroke="#bc8f8f" stroke-width="0.8"/>
<path d="M377.1 175.6L380.5 169.5L373.7 169.5Z" fill="none" stroke="#bc8f8f" stroke-width="0.85"/>
<path d="M384.0 161.6H391.2M384.0 162.8H391.2M387.6 161.6V162.8" fill="none" stroke="#bc8f8f" stroke-width="0.8"/>
<path d="M387.6 166.6L391.0 160.5L384.2 160.5Z" fill="none" stroke="#bc8f8f" stroke-width="0.85"/>
<path d="M394.5 157.4H401.7M394.5 158.6H401.7M398.1 157.4V158.6" fill="none" stroke="#bc8f8f" stroke-width="0.8"/>
<path d="M398.1 162.4L401.5 156.3L394.7 156.3Z" fill="none" stroke="#bc8f8f" stroke-width="0.85"/>
<text transform="translate(258.8 142.10) scale(1 1.02)" class="t" font-size="17.1" text-anchor="end">3</text>
<text transform="translate(258.8 180.55) scale(1 1.02)" class="t" font-size="17.1" text-anchor="end">2.5</text>
<text transform="translate(258.8 219.00) scale(1 1.02)" class="t" font-size="17.1" text-anchor="end">2</text>
<text transform="translate(258.8 257.45) scale(1 1.02)" class="t" font-size="17.1" text-anchor="end">1.5</text>
<text transform="translate(314.3 267.4) scale(1 1.02)" class="t" font-size="17.1" text-anchor="middle">0.03</text>
<text transform="translate(419.0 267.4) scale(1 1.02)" class="t" font-size="17.1" text-anchor="middle">0.04</text>
<text x="350.3" y="284.7" class="t" font-size="19.8" text-anchor="middle" font-style="italic">T / J</text>
<text transform="translate(230.4 193.3) rotate(-90)" class="t" font-size="19.5" font-style="italic" text-anchor="middle">Q</text>
</svg>
</body></html>
